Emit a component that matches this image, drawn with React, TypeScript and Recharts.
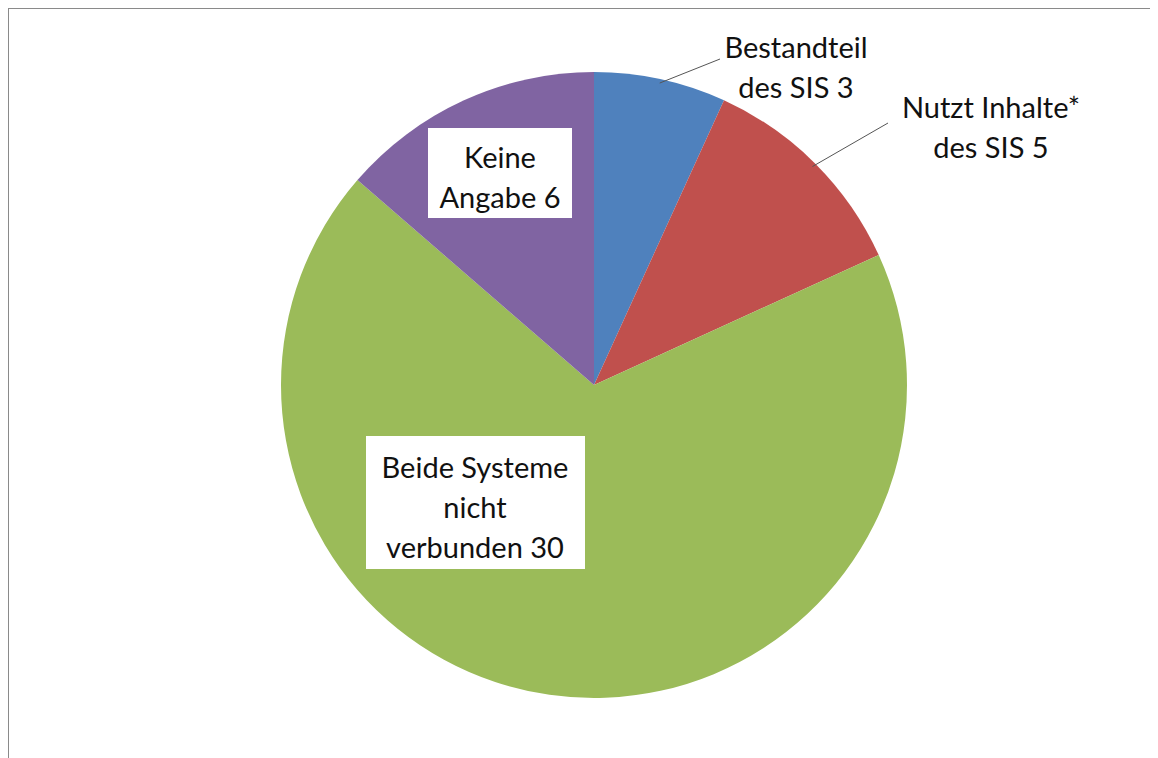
import { PieChart, Pie, Cell } from "recharts";

const categories = [
  ["Bestandteil", "des SIS 3"],
  ["Nutzt Inhalte*", "des SIS 5"],
  ["Beide Systeme", "nicht", "verbunden 30"],
  ["Keine", "Angabe 6"],
];
const values = [3, 5, 30, 6];
const colors = ["#4F81BD", "#C0504D", "#9BBB59", "#8064A2"];

// label placement, relative to the pie centre
const labelLayout = [
  { kind: "out", lineEnd: [126, -326], text: [202, -339] },
  { kind: "out", lineEnd: [294, -262], text: [397, -279] },
  { kind: "box", box: [-228, 51, 219, 133], text: [-119, 81] },
  { kind: "box", box: [-166, -257, 144, 90], text: [-94, -229] },
];

const FONT = "Lato, 'Open Sans', sans-serif";
const LINE_H = 40;

const data = values.map((v, i) => ({ name: categories[i].join(" "), value: v }));

function renderLabel(props: any) {
  const { cx, cy, midAngle, outerRadius, index } = props;
  const cfg: any = labelLayout[index];
  const lines = categories[index];
  const rad = Math.PI / 180;
  const texts = lines.map((t: string, j: number) => (
    <text key={j} x={cx + cfg.text[0]} y={cy + cfg.text[1] + j * LINE_H} textAnchor="middle" dominantBaseline="central" fontFamily={FONT} fontSize={29} fill="#111">
      {t}
    </text>
  ));
  if (cfg.kind === "out") {
    const sx = cx + (outerRadius - 4) * Math.cos(-midAngle * rad);
    const sy = cy + (outerRadius - 4) * Math.sin(-midAngle * rad);
    return (
      <g key={`l-${index}`}>
        <line x1={sx} y1={sy} x2={cx + cfg.lineEnd[0]} y2={cy + cfg.lineEnd[1]} stroke="#555" strokeWidth={1} />
        {texts}
      </g>
    );
  }
  return (
    <g key={`l-${index}`}>
      <rect x={cx + cfg.box[0]} y={cy + cfg.box[1]} width={cfg.box[2]} height={cfg.box[3]} fill="#fff" />
      {texts}
    </g>
  );
}

export default function App() {
  return (
    <div style={{ width: 1152, height: 752, borderLeft: "2px solid #8a8a8a", borderTop: "2px solid #8a8a8a", boxSizing: "border-box", background: "#fff", margin: "-1px 0 0 -1px" }}>
      <PieChart width={1150} height={750}>
        <Pie
          data={data}
          dataKey="value"
          cx={580}
          cy={371}
          outerRadius={313}
          startAngle={90}
          endAngle={-270}
          stroke="none"
          label={renderLabel}
          labelLine={false}
          isAnimationActive={false}
        >
          {data.map((d, i) => (
            <Cell key={d.name} fill={colors[i]} />
          ))}
        </Pie>
      </PieChart>
    </div>
  );
}
